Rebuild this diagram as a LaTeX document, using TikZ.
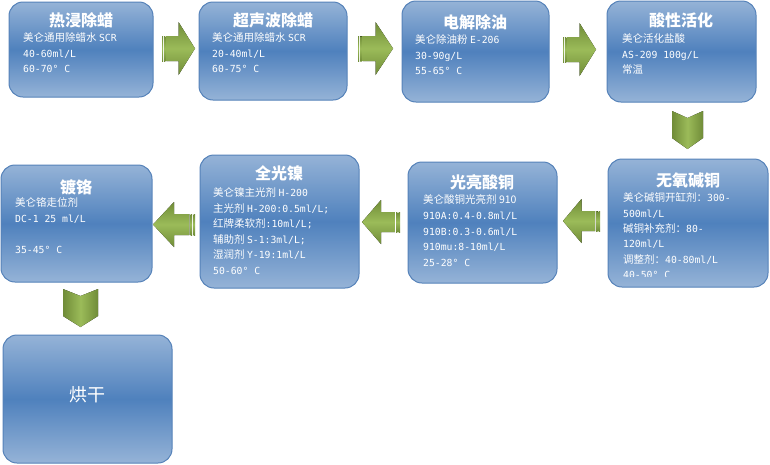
\documentclass[tikz,border=0pt]{standalone}
\usepackage{fontspec}
\setmainfont{Noto Sans CJK SC}
\newfontfamily\latfont{DejaVu Sans Mono}[Scale=0.93]
\newcommand\lt[1]{{\latfont #1}}
\usetikzlibrary{calc}
\definecolor{boxlight}{RGB}{149,179,215}
\definecolor{boxdark}{RGB}{79,129,189}
\definecolor{boxborder}{RGB}{85,130,185}
\definecolor{arrmid}{RGB}{155,187,89}
\definecolor{arredge}{RGB}{112,140,56}
\tikzset{
  stagebox/.style={rounded corners=14pt, draw=boxborder, line width=1pt,
    top color=boxlight, bottom color=boxlight, middle color=boxdark,
    inner sep=0pt, outer sep=0pt, anchor=north west},
  stagetitle/.style={text=white, font=\bfseries\fontsize{16}{18}\selectfont, inner sep=0pt, anchor=center},
  stagebody/.style={text=white, font=\fontsize{10.5}{15.6}\selectfont, align=left, inner sep=0pt, anchor=north west},
  hshade/.style={top color=arredge, bottom color=arredge, middle color=arrmid},
  vshade/.style={left color=arredge, right color=arredge, middle color=arrmid},
}
\newcommand\blockarrow[5]{%
  \begin{scope}[shift={(#1,#3)}, xscale={(#2-#1)/34}]
    \fill[hshade] (0,-#5) rectangle (1.2,#5);
    \fill[hshade] (2.3,-#5) rectangle (3.5,#5);
    \fill[hshade] (4.6,-#5) -- (17,-#5) -- (17,-#4) -- (34,0) -- (17,#4) -- (17,#5) -- (4.6,#5) -- cycle;
  \end{scope}}
\newcommand\chevronarrow[4]{%
  \begin{scope}[shift={(#1,#2)}, xscale={#3/31}, yscale={#4/38}]
    \fill[vshade] (0,0) -- (15.5,7) -- (31,0) -- (31,27) -- (15.5,38) -- (0,27) -- cycle;
  \end{scope}}
\begin{document}
\begin{tikzpicture}[x=1pt, y=-1pt]
\useasboundingbox (0,0) rectangle (770,464);
\fill[white] (0,0) rectangle (770,464);

% boxes
\node[stagebox, minimum width=144pt, minimum height=95pt] (b1) at (9,2) {};
\node[stagebox, minimum width=148pt, minimum height=98pt] (b2) at (199,2) {};
\node[stagebox, minimum width=147pt, minimum height=101pt] (b3) at (402,1) {};
\node[stagebox, minimum width=149pt, minimum height=101pt] (b4) at (607,1) {};
\node[stagebox, minimum width=160pt, minimum height=128pt] (b5) at (608,159) {};
\node[stagebox, minimum width=149pt, minimum height=121pt] (b6) at (408,162) {};
\node[stagebox, minimum width=159pt, minimum height=133pt] (b7) at (200,155) {};
\node[stagebox, minimum width=151pt, minimum height=117pt] (b8) at (1,165) {};
\node[stagebox, minimum width=169pt, minimum height=128pt] (b9) at (3,335) {};

% titles
\node[stagetitle] (t1) at (81,20) {热浸除蜡};
\node[stagetitle] (t2) at (273,20) {超声波除蜡};
\node[stagetitle] (t3) at (475,22) {电解除油};
\node[stagetitle] (t4) at (681,20) {酸性活化};
\node[stagetitle] (t5) at (688,180) {无氧碱铜};
\node[stagetitle] (t6) at (482,182) {光亮酸铜};
\node[stagetitle] (t7) at (279,173) {全光镍};
\node[stagetitle] (t8) at (76,187) {镀铬};
\node[text=white, font=\fontsize{18}{20}\selectfont, inner sep=0pt] (t9) at (87,395) {烘干};

% bodies
\node[stagebody] (d1) at (23,32.5) {美仑通用除蜡水 \lt{SCR}\\\lt{40-60ml/L}\\\lt{60-70° C}};
\node[stagebody] (d2) at (212,32.5) {美仑通用除蜡水 \lt{SCR}\\\lt{20-40ml/L}\\\lt{60-75° C}};
\node[stagebody] (d3) at (415,34.5) {美仑除油粉 \lt{E-206}\\\lt{30-90g/L}\\\lt{55-65° C}};
\node[stagebody] (d4) at (622,33.5) {美仑活化盐酸\\\lt{AS-209 100g/L}\\常温};
\begin{scope}
  \clip (608,159) rectangle (769,276);
  \node[stagebody, font=\fontsize{10.5}{15.4}\selectfont] (d5) at (623,192.5) {美仑碱铜开缸剂：\lt{300-}\\\lt{500ml/L}\\碱铜补充剂：\lt{80-}\\\lt{120ml/L}\\调整剂：\lt{40-80ml/L}\\\lt{40-50° C}};
\end{scope}
\node[stagebody, font=\fontsize{10.5}{15.8}\selectfont] (d6) at (423,194.5) {美仑酸铜光亮剂 910\\\lt{910A:0.4-0.8ml/L}\\\lt{910B:0.3-0.6ml/L}\\\lt{910mu:8-10ml/L}\\\lt{25-28° C}};
\node[stagebody] (d7) at (213,187.5) {美仑镍主光剂 \lt{H-200}\\主光剂 \lt{H-200:0.5ml/L;}\\红牌柔软剂\lt{:10ml/L;}\\辅助剂 \lt{S-1:3ml/L;}\\湿润剂 \lt{Y-19:1ml/L}\\\lt{50-60° C}};
\node[stagebody] (d8) at (15,197.5) {美仑铬走位剂\\\lt{DC-1 25 ml/L}\\\mbox{}\\\lt{35-45° C}};

% arrows
\blockarrow{162}{195}{48.5}{26.5}{12.5}
\blockarrow{358}{393}{48.5}{26.5}{12.5}
\blockarrow{563}{596}{49.5}{26.5}{12.5}
\chevronarrow{672}{111}{31}{38}
\blockarrow{600}{563}{221}{22}{10}
\blockarrow{400}{362}{222}{22}{10}
\blockarrow{195}{153}{224.5}{22.5}{10.5}
\chevronarrow{63}{289}{35}{38}
\end{tikzpicture}
\end{document}
